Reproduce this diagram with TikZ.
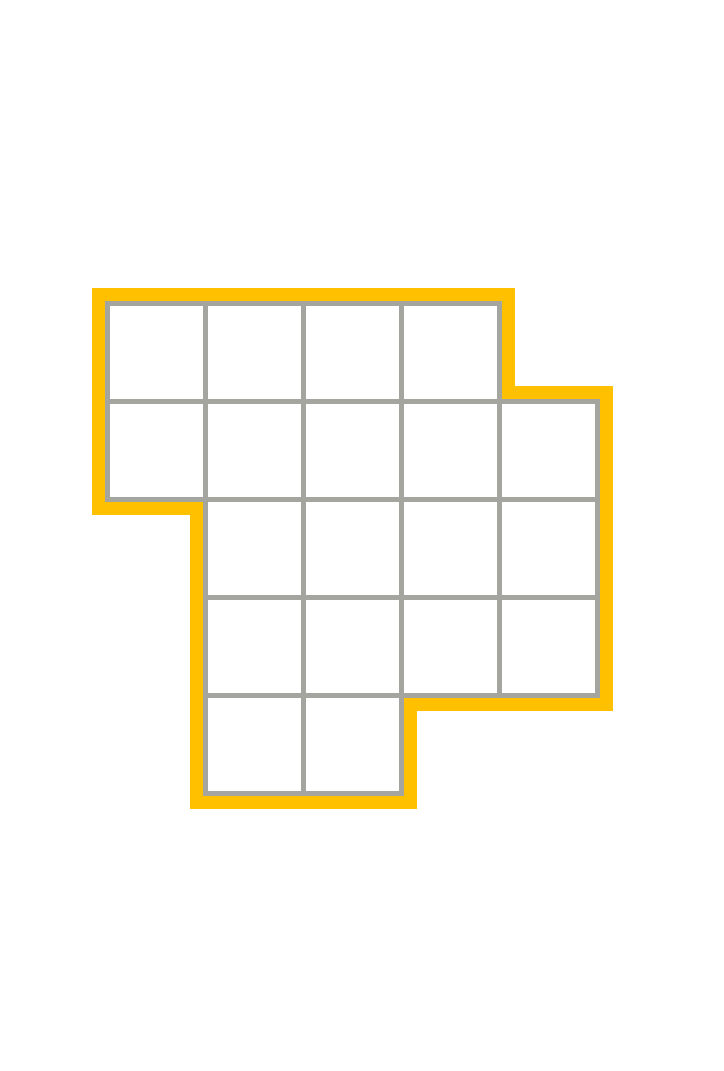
\documentclass[tikz,border=0pt]{standalone}
\definecolor{outl}{RGB}{255,192,0}
\definecolor{gridc}{RGB}{165,165,160}
\begin{document}
\begin{tikzpicture}[x=1pt,y=-1pt,
  cellbox/.style={draw=gridc,line width=4.5pt},
  outline/.style={draw=outl,line width=13pt,line join=miter}]
\useasboundingbox (0,0) rectangle (723,1071);
\def\ox{107.5}\def\oy{303.5}\def\s{98}\def\d{8.75}
% outline
\draw[outline]
  (\ox-\d,\oy-\d) -- (\ox+4*\s+\d,\oy-\d) -- (\ox+4*\s+\d,\oy+\s-\d)
  -- (\ox+5*\s+\d,\oy+\s-\d) -- (\ox+5*\s+\d,\oy+4*\s+\d)
  -- (\ox+3*\s+\d,\oy+4*\s+\d) -- (\ox+3*\s+\d,\oy+5*\s+\d)
  -- (\ox+\s-\d,\oy+5*\s+\d) -- (\ox+\s-\d,\oy+2*\s+\d)
  -- (\ox-\d,\oy+2*\s+\d) -- cycle;
% cells
\foreach \c/\r in {0/0,1/0,2/0,3/0,
                   0/1,1/1,2/1,3/1,4/1,
                   1/2,2/2,3/2,4/2,
                   1/3,2/3,3/3,4/3,
                   1/4,2/4}{
  \draw[cellbox] (\ox+\c*\s,\oy+\r*\s) rectangle (\ox+\c*\s+\s,\oy+\r*\s+\s);
}
\end{tikzpicture}
\end{document}
